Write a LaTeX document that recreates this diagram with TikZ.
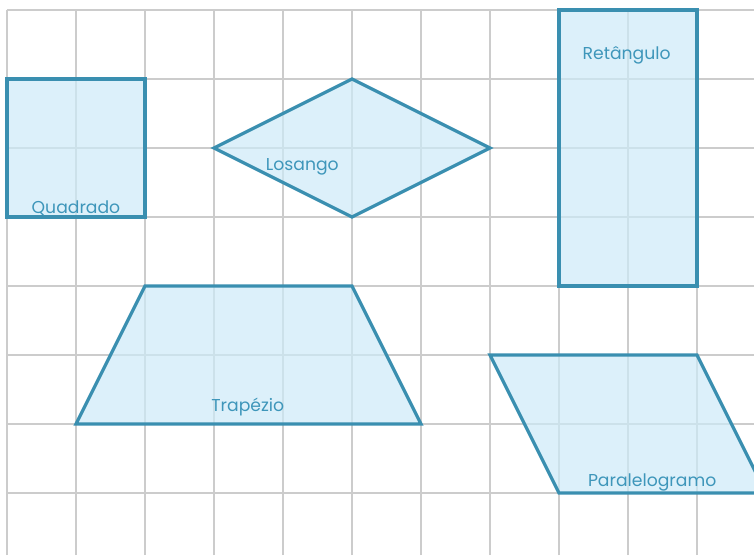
\documentclass[tikz,border=0pt]{standalone}
\usepackage{fontspec}
\setmainfont{Poppins}
\usepackage{xcolor}
\usetikzlibrary{positioning}
\definecolor{traco}{HTML}{3A8FB0}
\definecolor{preenche}{HTML}{CDEAF8}
\definecolor{texto}{HTML}{3E96BA}
\definecolor{malha}{HTML}{CCCCCC}

\begin{document}
\begin{tikzpicture}[
  font=\fontsize{7.1}{9}\selectfont,
  gridline/.style={malha, line width=0.8pt},
  figura/.style={draw=traco, fill=preenche, fill opacity=0.7, line width=1.35pt, line join=miter},
  rotulo/.style={text=texto, inner sep=1pt}
]
% Page frame
\useasboundingbox (-0.101,-0.899) rectangle (10.826,7.145);
\clip (-0.101,-0.899) rectangle (10.826,7.145);

% Square grid
\foreach \x in {0,...,10}
  \draw[gridline] (\x,-0.9) -- (\x,7);
\foreach \y in {0,...,7}
  \draw[gridline] (0,\y) -- (10.9,\y);

% Quadrilaterals
\draw[figura] (0,4) rectangle (2,6);
\draw[figura] (3,5) -- (5,6) -- (7,5) -- (5,4) -- cycle;
\draw[figura] (8,3) rectangle (10,7);
\draw[figura] (2,3) -- (5,3) -- (6,1) -- (1,1) -- cycle;
\draw[figura] (7,2) -- (10,2) -- (11,0) -- (8,0) -- cycle;

% Names
\node[rotulo] (quadrado) at (1,4.13) {Quadrado};
\node[rotulo] (losango) at (4.28,4.73) {Losango};
\node[rotulo] (retangulo) at (8.98,6.35) {Retângulo};
\node[rotulo] (trapezio) at (3.49,1.24) {Trapézio};
\node[rotulo] (paralelogramo) at (9.35,0.16) {Paralelogramo};

\end{tikzpicture}
\end{document}
